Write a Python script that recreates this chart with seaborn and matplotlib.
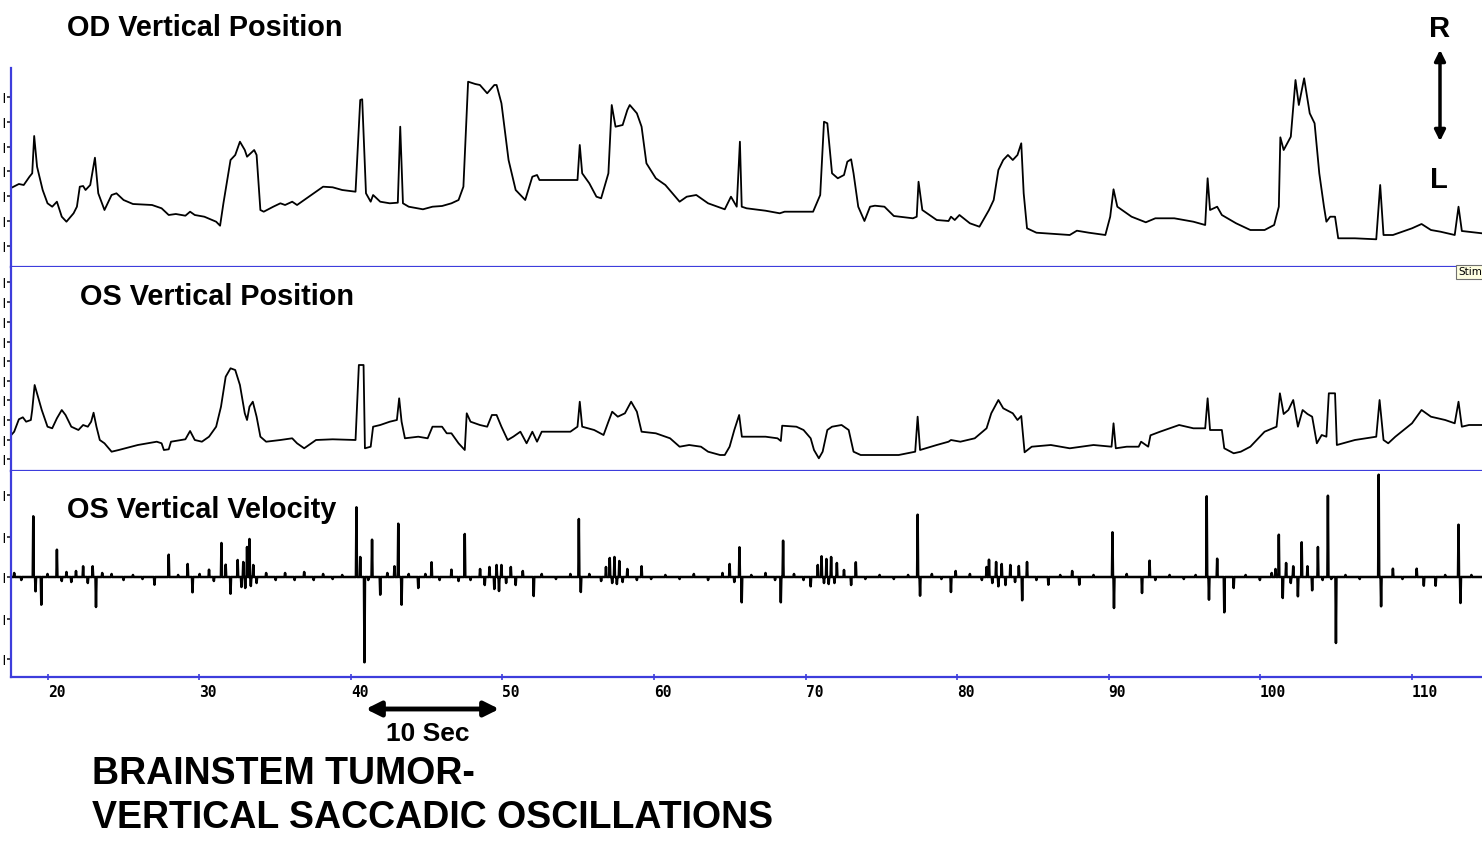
import numpy as np
import pandas as pd
import matplotlib
matplotlib.use("Agg")
import matplotlib.pyplot as plt
from matplotlib.patches import FancyArrowPatch
import seaborn as sns

# ---------------- data (time in s, amplitude in arbitrary units) ----------------
od_time = [17.52, 18.08, 18.40, 18.78, 18.96, 19.09, 19.28, 19.65, 19.97, 20.28,
           20.59, 20.91, 21.22, 21.69, 21.91, 22.10, 22.32, 22.48, 22.79, 23.10,
           23.32, 23.73, 24.20, 24.52, 24.99, 25.61, 26.87, 27.50, 27.97, 28.44,
           29.07, 29.38, 29.69, 30.32, 31.10, 31.36, 31.58, 32.05, 32.36, 32.67,
           32.99, 33.14, 33.61, 33.77, 34.02, 34.24, 34.87, 35.34, 35.65, 36.12,
           36.44, 37.22, 38.16, 38.79, 39.42, 40.30, 40.61, 40.74, 40.99, 41.30,
           41.46, 41.93, 42.56, 43.09, 43.25, 43.43, 43.81, 44.75, 45.38, 46.01,
           46.63, 47.10, 47.42, 47.73, 48.20, 48.51, 48.99, 49.46, 49.61, 49.93,
           50.40, 50.87, 51.50, 51.97, 52.28, 52.44, 54.95, 55.10, 55.26, 55.73,
           56.20, 56.51, 56.99, 57.21, 57.46, 57.93, 58.24, 58.40, 58.87, 59.18,
           59.50, 60.12, 60.75, 61.69, 62.16, 62.79, 63.57, 64.67, 65.08, 65.46,
           65.67, 65.79, 66.11, 67.36, 68.30, 68.62, 70.50, 70.97, 71.22, 71.44,
           71.75, 72.13, 72.54, 72.76, 73.01, 73.17, 73.48, 73.89, 74.26, 74.58,
           75.21, 75.83, 77.09, 77.34, 77.46, 77.71, 78.66, 79.44, 79.60, 79.85,
           80.16, 80.85, 81.48, 82.11, 82.42, 82.73, 83.05, 83.36, 83.68, 83.99,
           84.24, 84.40, 84.62, 85.24, 87.44, 87.91, 88.70, 89.79, 90.11, 90.33,
           90.58, 91.52, 92.46, 93.09, 94.34, 95.60, 96.38, 96.54, 96.70, 97.17,
           97.48, 98.42, 99.36, 100.30, 100.93, 101.24, 101.34, 101.56, 102.03, 102.34,
           102.56, 102.91, 103.28, 103.60, 103.91, 104.22, 104.38, 104.63, 104.95, 105.16,
           106.26, 107.67, 107.93, 108.15, 108.77, 110.03, 110.66, 111.28, 111.91, 112.85,
           113.10, 113.32, 114.65]
od_pos = [78.7, 83, 82, 90.3, 93.7, 131, 100.3, 77, 63.7, 60.3,
          65.3, 50.3, 45.3, 53.7, 60.3, 80.3, 81, 77, 82, 109.3,
          73.7, 57, 72, 73.7, 67, 63, 62, 58.7, 52, 53,
          51.3, 55.3, 52, 50.3, 45.3, 41.3, 63.7, 107, 112, 125.3,
          117, 110.3, 117, 112, 57, 55.3, 60.3, 63.7, 62, 65.3,
          62, 70.3, 80.3, 79.7, 77, 75.3, 167, 167.7, 73.7, 65.3,
          72, 65.3, 63.7, 64.3, 140.3, 63.7, 60.3, 57.7, 60.3, 61,
          63.7, 67, 80.3, 185.3, 183, 182, 173.7, 182, 182, 163.7,
          107, 77, 67, 90.3, 92, 87, 87, 122, 93.7, 83.7,
          70.3, 68.7, 93.7, 162, 140.3, 142, 157, 162, 153.7, 140.3,
          103.7, 88.7, 82, 65.3, 70.3, 72, 63.7, 57.7, 70.3, 60.3,
          125.3, 60.3, 58.7, 56.3, 53.7, 55.3, 55.3, 72, 145.3, 143.7,
          93.7, 88.7, 92, 105.3, 107.7, 93.7, 60.3, 46, 60.3, 61.3,
          60.3, 51, 48.7, 50.3, 85.3, 57, 47, 46, 50.3, 47,
          52, 43.7, 40.3, 57, 67, 97, 107, 112, 107, 112,
          123.7, 73.7, 38.7, 34.3, 32, 36.3, 34.3, 32, 50.3, 77.7,
          60.3, 50.3, 44.7, 48.7, 48.7, 45.3, 42, 88.7, 57, 60.3,
          52, 43.7, 37, 37, 42, 60.3, 129.7, 117, 130.3, 187,
          162, 188.7, 153.7, 143.7, 93.7, 60.3, 45.3, 50.3, 50.3, 28.7,
          28.7, 27.7, 82, 32, 32, 38.7, 43, 37, 35.3, 32,
          60.3, 36, 33.7]

os_time = [17.52, 17.77, 18.08, 18.34, 18.56, 18.87, 18.96, 19.12, 19.34, 19.59,
           19.97, 20.28, 20.59, 20.91, 21.16, 21.54, 22.01, 22.32, 22.63, 22.85,
           23.01, 23.20, 23.42, 23.73, 24.20, 24.67, 25.93, 27.18, 27.50, 27.65,
           27.97, 28.12, 29.07, 29.38, 29.69, 30.16, 30.63, 31.10, 31.42, 31.73,
           32.05, 32.36, 32.67, 32.99, 33.14, 33.30, 33.52, 33.77, 34.02, 34.40,
           35.34, 36.12, 36.44, 36.91, 37.22, 37.69, 38.79, 40.30, 40.52, 40.83,
           40.92, 41.30, 41.46, 41.93, 42.56, 43.03, 43.18, 43.34, 43.56, 44.44,
           45.06, 45.38, 46.01, 46.32, 46.63, 47.10, 47.51, 47.64, 47.89, 48.51,
           48.99, 49.30, 49.61, 49.93, 50.34, 50.71, 51.18, 51.59, 51.97, 52.28,
           52.59, 54.48, 54.95, 55.10, 55.26, 56.05, 56.67, 56.99, 57.24, 57.61,
           58.08, 58.49, 58.87, 59.18, 60.12, 61.06, 61.69, 62.32, 63.10, 63.57,
           64.36, 64.67, 64.99, 65.30, 65.62, 65.80, 67.36, 68.15, 68.37, 68.46,
           69.40, 69.87, 70.34, 70.56, 70.88, 71.13, 71.44, 71.75, 72.38, 72.85,
           73.17, 73.64, 74.89, 76.15, 77.24, 77.40, 77.56, 78.66, 79.44, 79.60,
           80.22, 81.17, 81.95, 82.26, 82.73, 83.05, 83.68, 83.99, 84.24, 84.46,
           84.93, 86.19, 87.44, 89.01, 90.20, 90.33, 90.48, 91.20, 91.99, 92.15,
           92.62, 92.77, 93.40, 94.66, 95.60, 96.38, 96.54, 96.70, 97.48, 97.64,
           98.26, 98.73, 99.36, 100.30, 101.09, 101.31, 101.56, 101.87, 102.19, 102.50,
           102.81, 103.13, 103.44, 103.75, 104.07, 104.38, 104.54, 104.95, 105.07, 106.26,
           107.67, 107.89, 108.15, 108.46, 108.93, 110.03, 110.66, 111.28, 112.22, 112.85,
           113.10, 113.32, 113.79, 114.65]
os_pos = [35, 39.3, 51.7, 53.7, 49.3, 51, 61, 86, 74.3, 61,
          44.3, 42.7, 52.7, 61, 56, 44.3, 41, 46, 44.3, 49.3,
          58.3, 44.3, 31, 27.7, 19.3, 21, 26, 29.3, 27.7, 21,
          21.7, 29.3, 31.7, 40, 31, 29.3, 34.3, 44.3, 64.3, 94.3,
          102.7, 101, 86, 57.7, 51, 64.3, 69.3, 54.3, 34.3, 29.3,
          31, 32.7, 27.7, 22.7, 26, 31, 31.7, 31, 106, 106,
          22.7, 24.3, 44.3, 46, 49.3, 51, 72.7, 49.3, 32.7, 34.3,
          32.7, 44.3, 44.3, 37.7, 37.7, 27.7, 21, 57.7, 49.3, 46,
          44.3, 56, 56, 44.3, 31, 34.3, 39.3, 27.7, 39.3, 29.3,
          39.3, 39.3, 44.3, 69.3, 44.3, 41, 36, 49.3, 59.3, 54.3,
          57.7, 69.3, 59.3, 39.3, 37.7, 32.7, 24.3, 26, 24.3, 19.3,
          16, 16, 24.3, 41, 56, 34.3, 34.3, 32.7, 30, 45.3,
          44.3, 41, 32.7, 21, 12.7, 19.3, 41, 44.3, 46, 41,
          19.3, 16, 16, 16, 19.3, 54.3, 21, 26, 29.3, 31,
          29.3, 32.7, 42.7, 57.7, 71, 62.7, 57.7, 51, 55, 18.7,
          24.3, 26, 22.7, 26, 24.3, 47.7, 22.7, 24.3, 24.3, 29.3,
          24.3, 35.7, 39.3, 46, 42.7, 42.7, 72.7, 41, 41, 22.7,
          17.7, 19.3, 24.3, 39.3, 44.3, 77.7, 57, 61, 71, 44.3,
          61, 57, 54.3, 27.7, 36, 34.3, 77.7, 77.7, 26, 31,
          34.3, 71, 31, 27.7, 34.3, 47.7, 61, 54.3, 51, 47.7,
          69.3, 44.3, 46, 46]

vel_event_time = [17.77, 18.24, 19.03, 19.18, 19.56, 19.97, 20.59, 20.91, 21.22, 21.54,
                  21.85, 22.32, 22.63, 22.95, 23.17, 23.58, 24.20, 24.99, 25.61, 26.24,
                  27.03, 27.97, 28.59, 29.22, 29.54, 30.01, 30.63, 30.95, 31.45, 31.73,
                  32.05, 32.52, 32.77, 32.89, 33.02, 33.14, 33.30, 33.39, 33.55, 33.77,
                  34.40, 35.03, 35.65, 36.28, 36.91, 37.54, 38.16, 38.79, 39.42, 40.36,
                  40.61, 40.89, 41.14, 41.39, 41.93, 42.40, 42.87, 43.12, 43.34, 43.81,
                  44.44, 44.91, 45.32, 45.85, 46.63, 47.10, 47.51, 47.89, 48.52, 48.83,
                  49.14, 49.46, 49.61, 49.77, 49.93, 50.24, 50.55, 50.87, 51.34, 52.06,
                  52.59, 53.53, 54.48, 55.04, 55.17, 55.73, 56.51, 56.83, 57.08, 57.24,
                  57.39, 57.55, 57.71, 57.93, 58.24, 58.87, 59.18, 59.81, 60.75, 61.69,
                  62.63, 63.57, 64.52, 64.99, 65.30, 65.64, 65.79, 66.42, 67.36, 67.99,
                  68.37, 68.52, 69.24, 69.87, 70.34, 70.81, 71.06, 71.22, 71.38, 71.53,
                  71.69, 71.91, 72.07, 72.54, 73.01, 73.32, 73.95, 74.89, 75.83, 76.77,
                  77.40, 77.56, 78.34, 78.97, 79.60, 79.91, 80.85, 81.64, 81.95, 82.11,
                  82.33, 82.58, 82.73, 82.95, 83.20, 83.52, 83.83, 84.08, 84.30, 84.62,
                  85.24, 86.03, 86.81, 87.60, 88.07, 89.01, 90.26, 90.36, 91.20, 92.21,
                  92.71, 93.09, 94.03, 94.97, 95.75, 96.48, 96.63, 97.17, 97.64, 98.26,
                  99.05, 99.99, 100.77, 101.02, 101.24, 101.50, 101.72, 102.03, 102.19, 102.50,
                  102.75, 103.13, 103.44, 103.82, 104.13, 104.48, 104.70, 105.01, 105.64, 106.58,
                  107.83, 107.99, 108.77, 109.40, 110.34, 110.81, 111.59, 112.22, 113.10, 113.23,
                  113.95]
vel_event_value = [4, -3, 60.7, -14.3, -27.7, 3, 27.3, -4, 5, -5,
                   6, 10.7, -6, 10.7, -30, 4, 3, -3, 2, -2,
                   -7.7, 22.3, 2, 13, -15.3, 3, 7.3, -4, 34, 12.3,
                   -16.7, 17, -10, 15, -11, 30, 38, -9, 12, -6,
                   4, -3, 4, -3, 5, -3, 3, -2, 2, 69.7,
                   20, -85.3, -3, 37.3, -17.7, 4, 10.7, 53.3, -27.7, 3,
                   -11, 3, 14.7, -3, 7.3, -4, 43, -3, 8, -8,
                   10, -12, 12, -14, 12, -6, 10, -8, 6, -19,
                   3, -2, 3, 58, -15, 3, -4, 10, 19, -6,
                   20, -7, 16, -5, 8, -3, 10.7, -2, 2, -2,
                   3, -3, 4, 13, -5, 29.7, -25.3, 2, 4, -3,
                   -25.3, 36.3, 3, -3, -9.3, 12, 20.7, -6, 18, -7,
                   20, -6, 14, 7, -8, 14.7, -2, 2, -2, 2,
                   62.3, -18.7, 3, -2, -15, 6, 3, -3, 10, 17.3,
                   -6, 15, -9.3, 13, -8, 12, -5, 11, -23.3, 15,
                   -3, -7.7, 2, 6, -7.7, 2, 44.7, -31, 3, -16,
                   16.3, -3, 2, -2, 2, 80.7, -22.7, 18.3, -35.3, -11,
                   2, -3, 4, 8, 42.3, -21, 14, -6, 10.7, -19.3,
                   34.7, 10.7, -13.3, 30, -3, 81.3, -2, -66, 2, -2,
                   102.3, -29.3, 8.3, -2, 8.3, -8.7, -8.7, 2, 52.3, -26,
                   2]

x_ticks = [20, 30, 40, 50, 60, 70, 80, 90, 100, 110]
od_ticks = [21, 46, 71, 96, 120, 145, 170]
os_ticks = [12, 31, 51, 71, 90, 110, 129, 149, 169, 189]
vel_ticks = [-82, -42, 0, 40, 82]

assert len(od_time) == len(od_pos)
assert len(os_time) == len(os_pos)
assert len(vel_event_time) == len(vel_event_value)

# velocity trace: each read-off event sits on the zero baseline
vt, vv = [17.55], [0.0]
for t, v in zip(vel_event_time, vel_event_value):
    vt += [t - 0.035, t, t + 0.035]
    vv += [0.0, v, 0.0]
vt.append(114.65)
vv.append(0.0)

od_df = pd.DataFrame({"t": od_time, "v": od_pos})
os_df = pd.DataFrame({"t": os_time, "v": os_pos})
vel_df = pd.DataFrame({"t": vt, "v": vv})

# ---------------- style ----------------
sns.set_style("white")
plt.rcParams["font.family"] = ["Liberation Sans", "DejaVu Sans"]
plt.rcParams["text.color"] = "black"
plt.rcParams["xtick.color"] = "black"
plt.rcParams["ytick.color"] = "black"

W, H = 1482, 846
fig = plt.figure(figsize=(W / 100, H / 100), dpi=100)
fig.patch.set_facecolor("white")


def fx(p):
    return p / W


def fy(p):
    return 1 - p / H


BLUE = "#3d3ddc"
XMIN, XMAX = 17.56, 114.65
left = fx(11)
width = 1 - left

ax1 = fig.add_axes([left, fy(267), width, (267 - 68) / H])
ax2 = fig.add_axes([left, fy(471), width, (471 - 267) / H])
ax3 = fig.add_axes([left, fy(677), width, (677 - 471) / H])

sns.lineplot(data=od_df, x="t", y="v", ax=ax1, color="black", linewidth=1.3,
             estimator=None, sort=False)
sns.lineplot(data=os_df, x="t", y="v", ax=ax2, color="black", linewidth=1.3,
             estimator=None, sort=False)
sns.lineplot(data=vel_df, x="t", y="v", ax=ax3, color="black", linewidth=1.8,
             estimator=None, sort=False)

ax1.set_ylim(0, 199)
ax2.set_ylim(0, 204)
ax3.set_ylim(-100, 106)

for ax, yt in ((ax1, od_ticks), (ax2, os_ticks), (ax3, vel_ticks)):
    ax.set_xlim(XMIN, XMAX)
    ax.set_facecolor("white")
    ax.set_xlabel("")
    ax.set_ylabel("")
    for s in ("top", "right"):
        ax.spines[s].set_visible(False)
    for s in ("left", "bottom"):
        ax.spines[s].set_visible(True)
        ax.spines[s].set_color(BLUE)
        ax.spines[s].set_linewidth(1.6)
    ax.set_yticks(yt)
    ax.set_yticklabels(["|"] * len(yt), fontsize=7, fontweight="bold", color="black")
    ax.tick_params(axis="y", direction="out", length=3, width=1.2, color="#222222",
                   pad=1, left=True)
    ax.grid(False)

for ax in (ax1, ax2):
    ax.set_xticks([])

ax3.set_xticks(x_ticks)
ax3.set_xticklabels([str(v) for v in x_ticks], fontsize=10.5, fontweight="bold",
                    family="DejaVu Sans Mono", ha="left", color="black")
ax3.tick_params(axis="x", direction="inout", length=5, width=1.2, color=BLUE, pad=3,
                bottom=True)

# ---------------- texts and annotations ----------------
title_kw = dict(fontsize=20.8, fontweight="bold", va="center", ha="left", color="black")
fig.text(fx(67), fy(28), "OD Vertical Position", **title_kw)
fig.text(fx(80), fy(297), "OS Vertical Position", **title_kw)
fig.text(fx(67), fy(510), "OS Vertical Velocity", **title_kw)

fig.text(fx(1440), fy(29), "R", fontsize=21, fontweight="bold", ha="center",
         va="center", color="black")
fig.text(fx(1439), fy(180), "L", fontsize=21, fontweight="bold", ha="center",
         va="center", color="black")
fig.add_artist(FancyArrowPatch((fx(1440), fy(47)), (fx(1440), fy(144)),
                               transform=fig.transFigure, arrowstyle="<|-|>",
                               mutation_scale=16, lw=2.5, color="black"))

fig.add_artist(FancyArrowPatch((fx(363), fy(709)), (fx(502), fy(709)),
                               transform=fig.transFigure, arrowstyle="<|-|>",
                               mutation_scale=22, lw=3.5, color="black"))
fig.text(fx(428), fy(734), "10 Sec", fontsize=19, fontweight="bold", ha="center",
         va="center", color="black")

fig.text(fx(92), fy(784), "BRAINSTEM TUMOR-", fontsize=27, fontweight="bold",
         ha="left", va="baseline", color="black")
fig.text(fx(92), fy(828), "VERTICAL SACCADIC OSCILLATIONS", fontsize=27,
         fontweight="bold", ha="left", va="baseline", color="black")

fig.text(fx(1458), fy(272), "Stim", fontsize=7.5, ha="left", va="center",
         family="DejaVu Sans", color="black",
         bbox=dict(boxstyle="square,pad=0.2", fc="#ffffe1", ec="#707070", lw=0.8))

fig.savefig("out.png", dpi=100, facecolor="white")
